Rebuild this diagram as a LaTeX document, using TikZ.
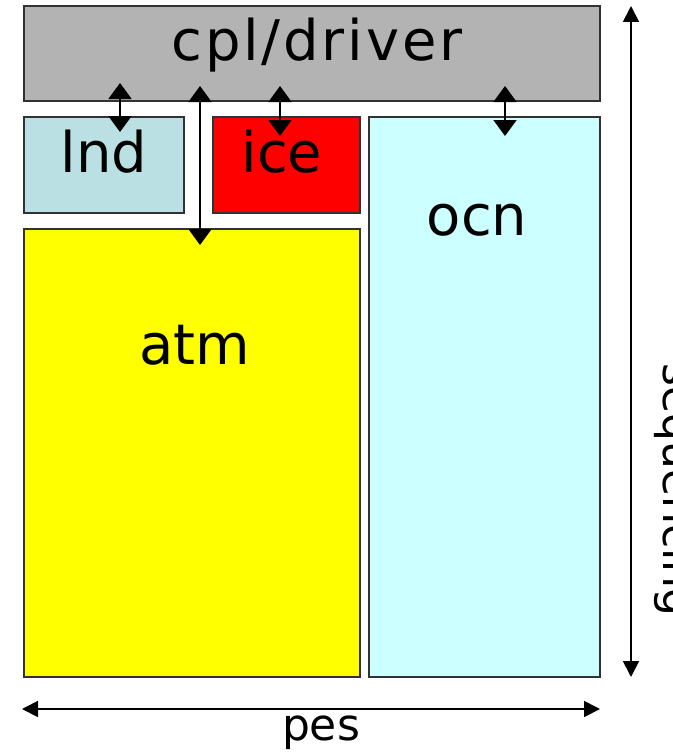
\documentclass[tikz,border=0pt]{standalone}
\usepackage{fontspec}
\setmainfont{DejaVu Sans}
\newfontfamily\widefont[LetterSpace=5]{DejaVu Sans}
\usetikzlibrary{arrows.meta}
\definecolor{cplgray}{RGB}{179,179,179}
\definecolor{lndblue}{RGB}{187,224,227}
\definecolor{ocncyan}{RGB}{204,255,255}
\definecolor{icered}{RGB}{255,0,0}
\definecolor{atmyellow}{RGB}{255,255,0}
\definecolor{edgegray}{RGB}{50,50,50}
\begin{document}
\begin{tikzpicture}[x=1pt,y=-1pt,
  box/.style={draw=edgegray,line width=1.2pt,inner sep=0pt,outer sep=0pt},
  lbl/.style={anchor=base,inner sep=0pt,font=\fontsize{56}{60}\selectfont},
  smalllbl/.style={anchor=base,inner sep=0pt,font=\fontsize{44}{48}\selectfont},
  dblarrow/.style={line width=1.8pt,{Triangle[width=23pt,length=16pt]}-{Triangle[width=23pt,length=16pt]}},
  axisarrow/.style={line width=1.8pt,{Triangle[width=16pt,length=16pt]}-{Triangle[width=16pt,length=16pt]}}]
\useasboundingbox (0,0) rectangle (672,752);
% boxes
\node[box,fill=cplgray,minimum width=576pt,minimum height=95pt] (cpl) at (312,53.5) {};
\node[box,fill=lndblue,minimum width=160pt,minimum height=96pt] (lnd) at (104,165) {};
\node[box,fill=icered,minimum width=147pt,minimum height=96pt] (ice) at (286.5,165) {};
\node[box,fill=ocncyan,minimum width=231pt,minimum height=560pt] (ocn) at (484.5,397) {};
\node[box,fill=atmyellow,minimum width=336pt,minimum height=448pt] (atm) at (192,453) {};
% labels
\node[lbl,font=\fontsize{56}{60}\widefont] (cpltext) at (317,61) {cpl/driver};
\node[lbl] (lndtext) at (104,172) {lnd};
\node[lbl] (icetext) at (282,172) {ice};
\node[lbl] (ocntext) at (477,235) {ocn};
\node[lbl] (atmtext) at (195,364) {atm};
\node[smalllbl] (pestext) at (321,740) {pes};
\node[smalllbl,rotate=-90] (seqtext) at (663,490) {sequencing};
% connector end points
\coordinate (cplL) at (120,83);
\coordinate (lndT) at (120,132);
\coordinate (cplA) at (200,86);
\coordinate (atmT) at (200,245);
\coordinate (cplI) at (280,86);
\coordinate (iceT) at (280,136);
\coordinate (cplO) at (505,86);
\coordinate (ocnT) at (505,136);
\coordinate (seqTop) at (631,6);
\coordinate (seqBot) at (631,677);
\coordinate (pesL) at (22,709);
\coordinate (pesR) at (600,709);
% connectors
\draw[dblarrow] (cplL) -- (lndT);
\draw[dblarrow] (cplA) -- (atmT);
\draw[dblarrow] (cplI) -- (iceT);
\draw[dblarrow] (cplO) -- (ocnT);
\draw[axisarrow] (seqTop) -- (seqBot);
\draw[axisarrow] (pesL) -- (pesR);
\end{tikzpicture}
\end{document}
